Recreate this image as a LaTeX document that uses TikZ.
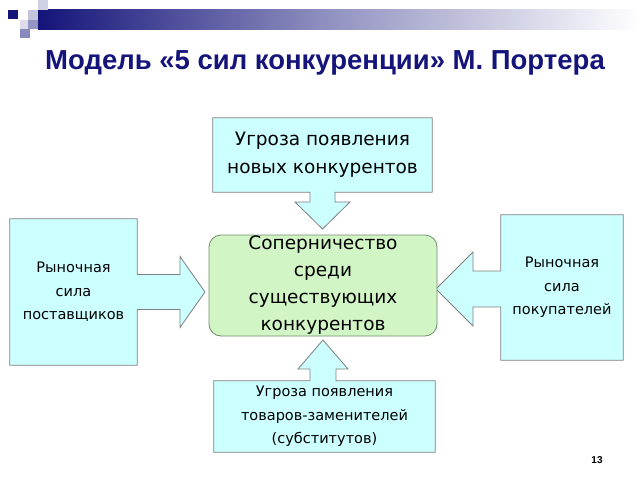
\documentclass[tikz,border=0pt]{standalone}
\usepackage{fontspec}
\setmainfont{DejaVu Sans}
\newfontfamily\titlefont{Liberation Sans}
\usetikzlibrary{positioning,calc,backgrounds}
\definecolor{navy}{HTML}{14147A}
\definecolor{boxfill}{HTML}{CCFFFF}
\definecolor{boxline}{HTML}{7F7F7F}
\definecolor{rivalfill}{HTML}{D2F5C6}
\definecolor{rivalline}{HTML}{6F8C6A}

\begin{document}
\begin{tikzpicture}[x=1pt, y=-1pt, inner sep=0pt]
\tikzset{force/.style = {minimum width=219pt, minimum height=74pt,
  align=center, font=\fontsize{18.5}{28}\selectfont}}
\tikzset{callout/.style = {draw=boxline, fill=boxfill, line width=0.8pt,
  line join=miter}}

  \useasboundingbox (0,0) rectangle (640,480);

  % header band and squares
  \shade[left color=navy, right color=white, middle color=navy!45!white]
    (38,9) rectangle (640,29);
  \fill[navy] (8,10) rectangle (18,19);
  \fill[navy!20!white] (38,0) rectangle (48,10);
  \fill[navy!25!white] (28,10) rectangle (38,20);
  \fill[navy!15!white] (20,20) rectangle (28,29);
  \fill[navy!45!white] (28,20) rectangle (38,29);
  \fill[navy!50!white] (20,29) rectangle (30,38);

  \node[font=\titlefont\fontsize{27.5}{30}\selectfont\bfseries, text=navy]
    (title) at (325,63) {Модель «5 сил конкуренции» М. Портера};

  % the five forces
  \node[force] (entrants) at (322.5,155)
    {Угроза появления\\новых конкурентов};
  \node[force, minimum width=228pt, minimum height=101pt,
    draw=rivalline, fill=rivalfill, line width=0.8pt, rounded corners=12pt,
    font=\fontsize{18.5}{27}\selectfont]
    (rivalry) at (323,285.5)
    {Соперничество\\среди\\существующих\\конкурентов};
  \node[force, minimum width=221pt, minimum height=71pt,
    font=\fontsize{14.5}{23.5}\selectfont]
    (substitutes) at (324.5,416.5)
    {Угроза появления\\товаров-заменителей\\(субститутов)};
  \node[force, minimum width=127pt, minimum height=146pt,
    font=\fontsize{14.5}{23.5}\selectfont]
    (suppliers) at (73.5,292)
    {Рыночная\\сила\\поставщиков};
  \node[force, minimum width=122pt, minimum height=145pt,
    font=\fontsize{14.5}{23.5}\selectfont]
    (buyers) at (562,287.5)
    {Рыночная\\сила\\покупателей};

  \node[font=\titlefont\fontsize{10}{12}\selectfont\bfseries]
    (pagenum) at (597,460) {13};

  % arrow tips and stem edges
  \coordinate (entrantstip) at (322.5,229);
  \coordinate (entrantsL) at (310,229);
  \coordinate (entrantsR) at (335,229);
  \coordinate (substitutestip) at (323,340);
  \coordinate (substitutesL) at (310,340);
  \coordinate (substitutesR) at (336,340);
  \coordinate (supplierstip) at (205,292);
  \coordinate (suppliersT) at (205,274.5);
  \coordinate (suppliersB) at (205,309.5);
  \coordinate (buyerstip) at (436,289);
  \coordinate (buyersT) at (436,271);
  \coordinate (buyersB) at (436,307);

  \begin{scope}[on background layer]
  \draw[callout] (entrants.north west) -- (entrants.north east)
    -- (entrants.south east)
    -- (entrantsR |- entrants.south) -- ($(entrantsR)+(0,-27)$)
    -- ($(entrantstip)+(27.5,-27)$) -- (entrantstip)
    -- ($(entrantstip)+(-27.5,-27)$) -- ($(entrantsL)+(0,-27)$)
    -- (entrantsL |- entrants.south)
    -- (entrants.south west) -- cycle;

  \draw[callout] (substitutes.south west) -- (substitutes.south east)
    -- (substitutes.north east)
    -- (substitutesR |- substitutes.north) -- ($(substitutesR)+(0,29)$)
    -- ($(substitutestip)+(25,29)$) -- (substitutestip)
    -- ($(substitutestip)+(-25,29)$) -- ($(substitutesL)+(0,29)$)
    -- (substitutesL |- substitutes.north)
    -- (substitutes.north west) -- cycle;

  \draw[callout] (suppliers.north west) -- (suppliers.north east)
    -- (suppliers.east |- suppliersT) -- ($(suppliersT)+(-25,0)$)
    -- ($(supplierstip)+(-25,-35.5)$) -- (supplierstip)
    -- ($(supplierstip)+(-25,35.5)$) -- ($(suppliersB)+(-25,0)$)
    -- (suppliers.east |- suppliersB)
    -- (suppliers.south east) -- (suppliers.south west) -- cycle;

  \draw[callout] (buyers.north east) -- (buyers.north west)
    -- (buyers.west |- buyersT) -- ($(buyersT)+(37,0)$)
    -- ($(buyerstip)+(37,-37)$) -- (buyerstip)
    -- ($(buyerstip)+(37,37)$) -- ($(buyersB)+(37,0)$)
    -- (buyers.west |- buyersB)
    -- (buyers.south west) -- (buyers.south east) -- cycle;
  \end{scope}

\end{tikzpicture}
\end{document}
